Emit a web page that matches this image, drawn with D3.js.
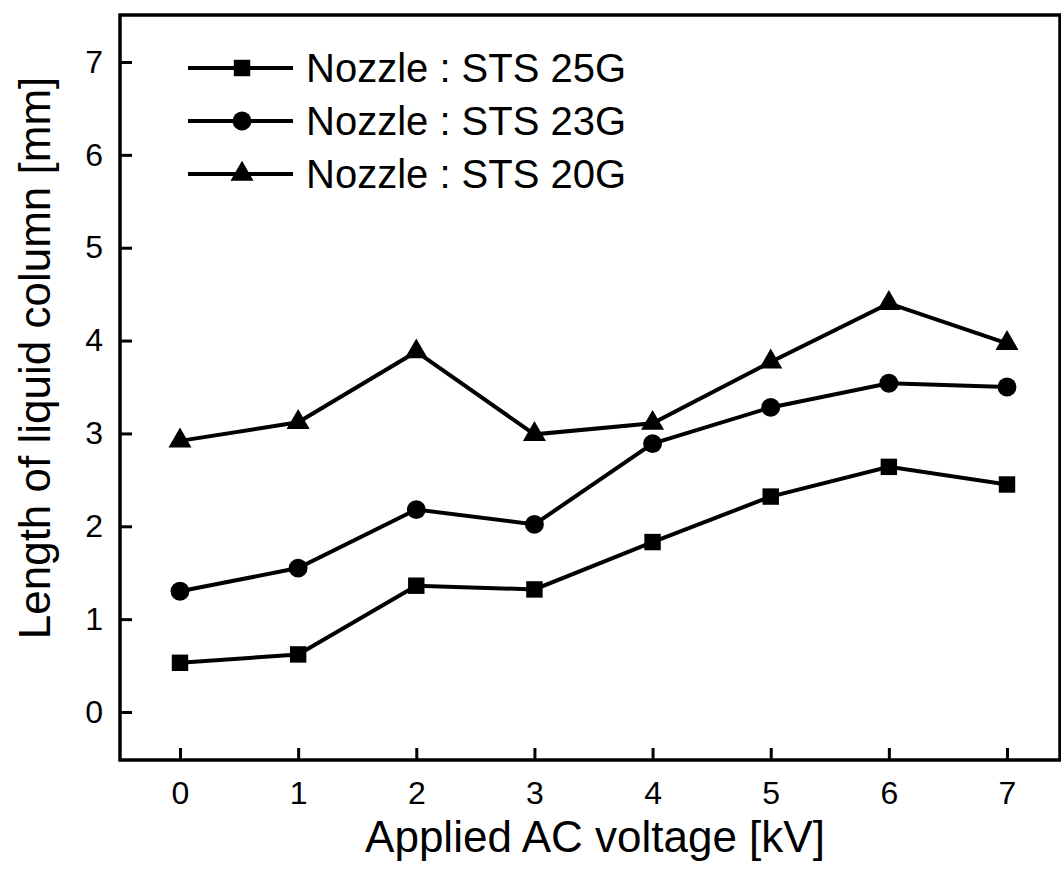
<!DOCTYPE html>
<meta charset="utf-8">
<script src="https://d3js.org/d3.v7.min.js"></script>
<style>
  body { margin: 0; background: #fff; }
  text { font-family: "Liberation Sans", Arial, sans-serif; fill: #000; }
</style>
<div id="chart"></div>
<script>

// data
var voltages = [0, 1, 2, 3, 4, 5, 6, 7];
var sts25G = [0.53, 0.62, 1.36, 1.32, 1.83, 2.32, 2.64, 2.45];
var sts23G = [1.30, 1.55, 2.18, 2.02, 2.89, 3.28, 3.54, 3.50];
var sts20G = [2.92, 3.12, 3.88, 2.99, 3.11, 3.77, 4.40, 3.97];
var seriesNames = ["Nozzle : STS 25G", "Nozzle : STS 23G", "Nozzle : STS 20G"];
var yTicks = [0, 1, 2, 3, 4, 5, 6, 7];

var W = 1061, H = 872;
var frame = {left: 120, top: 15, right: 1060, bottom: 760};

var svg = d3.select("#chart").append("svg")
  .attr("width", W)
  .attr("height", H);

var x = d3.scaleLinear().domain([0, 7]).range([180, 1007]);
var y = d3.scaleLinear().domain([0, 7]).range([712, 62]);

// frame
svg.append("rect")
  .attr("x", frame.left).attr("y", frame.top)
  .attr("width", frame.right - frame.left)
  .attr("height", frame.bottom - frame.top)
  .attr("fill", "none").attr("stroke", "#000").attr("stroke-width", 3.5);

// axes, ticks pointing inward
var yAxis = svg.append("g")
  .attr("transform", "translate(" + frame.left + ",0)")
  .call(d3.axisLeft(y).tickValues(yTicks).tickSize(-12).tickPadding(17).tickFormat(d3.format("d")));
var xAxis = svg.append("g")
  .attr("transform", "translate(0," + frame.bottom + ")")
  .call(d3.axisBottom(x).tickValues(voltages).tickSize(-12).tickPadding(21).tickFormat(d3.format("d")));

[xAxis, yAxis].forEach(function (g) {
  g.select(".domain").remove();
  g.selectAll(".tick line").attr("stroke", "#000").attr("stroke-width", 3);
  g.selectAll(".tick text")
    .style("font-size", "32px")
    .style("font-family", "'Liberation Sans', Arial, sans-serif")
    .attr("fill", "#000");
});

// axis titles
svg.append("text")
  .attr("x", 595).attr("y", 852)
  .attr("text-anchor", "middle")
  .style("font-size", "44px")
  .text("Applied AC voltage [kV]");

svg.append("text")
  .attr("transform", "translate(50,358) rotate(-90)")
  .attr("text-anchor", "middle")
  .style("font-size", "44px")
  .text("Length of liquid column [mm]");

// series
var series = [
  {name: seriesNames[0], values: sts25G, symbol: d3.symbolSquare, size: 270},
  {name: seriesNames[1], values: sts23G, symbol: d3.symbolCircle, size: 280},
  {name: seriesNames[2], values: sts20G, symbol: d3.symbolTriangle, size: 230}
];

var line = d3.line()
  .x(function (d, i) { return x(voltages[i]); })
  .y(function (d) { return y(d); });

series.forEach(function (s) {
  svg.append("path")
    .datum(s.values)
    .attr("d", line)
    .attr("fill", "none")
    .attr("stroke", "#000")
    .attr("stroke-width", 4);

  svg.append("g")
    .selectAll("path")
    .data(s.values)
    .enter()
    .append("path")
      .attr("transform", function (d, i) { return "translate(" + x(voltages[i]) + "," + y(d) + ")"; })
      .attr("d", d3.symbol().type(s.symbol).size(s.size))
      .attr("fill", "#000");
});

// legend
var legend = svg.append("g").attr("transform", "translate(188,68)");
series.forEach(function (s, i) {
  var g = legend.append("g").attr("transform", "translate(0," + (i * 53) + ")");
  g.append("line")
    .attr("x1", 0).attr("x2", 105).attr("y1", 0).attr("y2", 0)
    .attr("stroke", "#000").attr("stroke-width", 4);
  g.append("path")
    .attr("transform", "translate(54,0)")
    .attr("d", d3.symbol().type(s.symbol).size(s.size))
    .attr("fill", "#000");
  g.append("text")
    .attr("x", 118).attr("y", 14)
    .style("font-size", "40px")
    .text(s.name);
});

</script>
